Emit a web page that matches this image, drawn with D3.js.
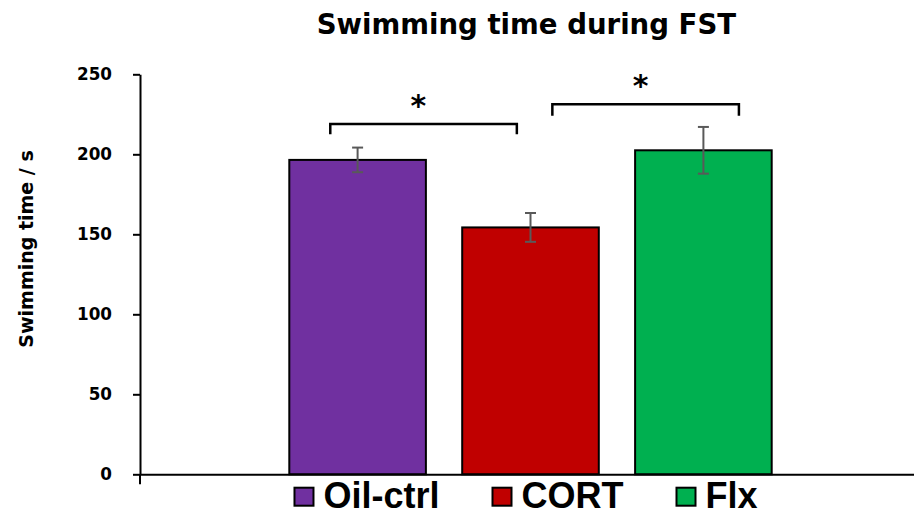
<!DOCTYPE html>
<html>
<head>
<meta charset="utf-8">
<script src="https://cdn.jsdelivr.net/npm/d3@7"></script>
<style>
  html, body { margin: 0; padding: 0; background: #fff; }
  svg { display: block; }
</style>
</head>
<body>
<svg id="chart" width="914" height="517"></svg>
<script>
// ---------------- data ----------------
const category = ["FST"];
const series = ["Oil-ctrl", "CORT", "Flx"];
const means = [196.5, 154.3, 202.5];
const errors = [7.7, 9.0, 14.6];
const colors = ["#7030A0", "#C00000", "#00B050"];
const yTicks = [0, 50, 100, 150, 200, 250];
// significance brackets: between series, at a given value, drop length (value units)
const sigFrom = ["Oil-ctrl", "CORT"];
const sigTo = ["CORT", "Flx"];
const sigLevel = [219, 231.3];
const sigDrop = [6.5, 7.2];
const sigLabel = ["*", "*"];

// ---------------- layout ----------------
const W = 914, H = 517;
const plot = { left: 140, right: 921, top: 74.3, bottom: 474.3 };
const svg = d3.select("#chart");

const y = d3.scaleLinear().domain([0, 250]).range([plot.bottom, plot.top]);
const x0 = d3.scaleBand().domain(category).range([plot.left, plot.right]).padding(0);
const x1 = d3.scaleBand().domain(series).range([0, x0.bandwidth()])
  .paddingInner(0.21).paddingOuter(0.8635);

const cx = s => x0(category[0]) + x1(s) + x1.bandwidth() / 2;

// bracket end offsets relative to the bar center (fraction of bar width)
const sigFromOff = [-0.2, 0.16];
const sigToOff = [-0.1, 0.26];

// ---------------- title ----------------
svg.append("text")
  .attr("x", 526.4).attr("y", 34.3)
  .attr("text-anchor", "middle")
  .attr("font-family", "DejaVu Sans")
  .attr("font-weight", "bold")
  .attr("font-size", 27.6)
  .attr("fill", "#000")
  .text("Swimming time during FST");

// ---------------- y axis ----------------
const yAxis = d3.axisLeft(y).tickValues(yTicks).tickSize(7).tickSizeOuter(0).tickPadding(21);
const gy = svg.append("g").attr("transform", `translate(${plot.left},0)`).call(yAxis);
gy.select(".domain").attr("stroke", "#000").attr("stroke-width", 2);
gy.selectAll(".tick line").attr("stroke", "#000").attr("stroke-width", 2);
gy.selectAll(".tick text")
  .attr("font-family", "DejaVu Sans")
  .attr("font-weight", "bold")
  .attr("font-size", 16.8)
  .attr("fill", "#000");

svg.append("text")
  .attr("transform", `translate(33,249) rotate(-90)`)
  .attr("text-anchor", "middle")
  .attr("font-family", "DejaVu Sans")
  .attr("font-weight", "bold")
  .attr("font-size", 19)
  .attr("fill", "#000")
  .text("Swimming time / s");

// ---------------- bars ----------------
const data = series.map((s, i) => ({ s, v: means[i], e: errors[i], c: colors[i] }));
const gb = svg.append("g").attr("transform", `translate(${x0(category[0])},0)`);
gb.selectAll("rect").data(data).join("rect")
  .attr("x", d => x1(d.s))
  .attr("width", x1.bandwidth())
  .attr("y", d => y(d.v))
  .attr("height", d => y(0) - y(d.v))
  .attr("fill", d => d.c)
  .attr("stroke", "#000")
  .attr("stroke-width", 2);

// ---------------- x axis ----------------
const xAxis = d3.axisBottom(x0).tickSize(0).tickFormat("");
const gx = svg.append("g").attr("transform", `translate(0,${plot.bottom})`).call(xAxis);
gx.select(".domain").attr("stroke", "#000").attr("stroke-width", 2);
gx.append("line")
  .attr("x1", x0(category[0])).attr("x2", x0(category[0]))
  .attr("y1", 0).attr("y2", 10)
  .attr("stroke", "#000").attr("stroke-width", 2);

// ---------------- error bars ----------------
const ge = svg.append("g").attr("stroke", "#595959").attr("stroke-width", 2);
data.forEach(d => {
  const x = cx(d.s);
  ge.append("line").attr("x1", x).attr("x2", x).attr("y1", y(d.v + d.e)).attr("y2", y(d.v - d.e));
  ge.append("line").attr("x1", x - 5.5).attr("x2", x + 5.5).attr("y1", y(d.v + d.e)).attr("y2", y(d.v + d.e));
  ge.append("line").attr("x1", x - 5.5).attr("x2", x + 5.5).attr("y1", y(d.v - d.e)).attr("y2", y(d.v - d.e));
});

// ---------------- significance brackets ----------------
sigFrom.forEach((f, i) => {
  const xa = cx(f) + sigFromOff[i] * x1.bandwidth();
  const xb = cx(sigTo[i]) + sigToOff[i] * x1.bandwidth();
  const yt = y(sigLevel[i]);
  const yd = y(sigLevel[i] - sigDrop[i]);
  svg.append("path")
    .attr("d", `M${xa},${yd}V${yt}H${xb}V${yd}`)
    .attr("fill", "none").attr("stroke", "#000").attr("stroke-width", 2.5);
  const t = svg.append("text")
    .attr("x", 0).attr("y", 0)
    .attr("font-family", "DejaVu Sans")
    .attr("font-weight", "bold")
    .attr("font-size", 30)
    .attr("fill", "#000")
    .text(sigLabel[i]);
  const bb = t.node().getBBox();
  const tx = (xa + xb) / 2 - 5;
  const ty = yt - 18.5;
  t.attr("x", tx - (bb.x + bb.width / 2)).attr("y", ty - (bb.y + bb.height / 2));
});

// ---------------- legend ----------------
const lg = svg.append("g");
let lx = 0;
const items = [];
data.forEach(d => {
  const g = lg.append("g");
  g.append("rect").attr("x", 0).attr("y", -20).attr("width", 19).attr("height", 18)
    .attr("fill", d.c).attr("stroke", "#000").attr("stroke-width", 2);
  const t = g.append("text").attr("x", 29).attr("y", 0)
    .attr("font-family", "Liberation Sans, Arial, sans-serif")
    .attr("font-weight", "bold")
    .attr("font-size", 36)
    .attr("fill", "#000")
    .text(d.s);
  const w = 29 + t.node().getComputedTextLength();
  g.attr("transform", `translate(${lx},0)`);
  lx += w + 53;
});
const totalW = lx - 53;
lg.attr("transform", `translate(${526 - totalW / 2},507.7)`);
</script>
</body>
</html>
